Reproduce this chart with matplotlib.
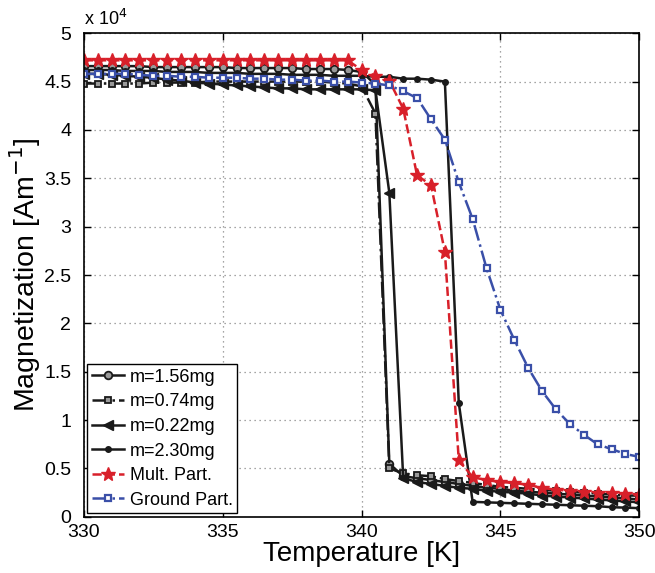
import matplotlib
matplotlib.use("Agg")
import matplotlib.pyplot as plt
from matplotlib.ticker import MultipleLocator, FormatStrFormatter

plt.rcParams['font.family'] = ['Liberation Sans', 'DejaVu Sans']

temps = [330, 330.5, 331, 331.5, 332, 332.5, 333, 333.5, 334, 334.5,
         335, 335.5, 336, 336.5, 337, 337.5, 338, 338.5, 339, 339.5,
         340, 340.5, 341, 341.5, 342, 342.5, 343, 343.5, 344, 344.5,
         345, 345.5, 346, 346.5, 347, 347.5, 348, 348.5, 349, 349.5, 350]

# values in units of 1e4 A/m
m156 = [4.66, 4.66, 4.66, 4.66, 4.66, 4.65, 4.65, 4.65, 4.65, 4.65,
        4.65, 4.64, 4.64, 4.64, 4.64, 4.64, 4.63, 4.63, 4.63, 4.62,
        4.60, 4.47, 0.55, 0.42, 0.40, 0.38, 0.36, 0.34, 0.32, 0.30,
        0.29, 0.27, 0.26, 0.25, 0.24, 0.23, 0.22, 0.21, 0.20, 0.19, 0.18]
m074 = [4.48, 4.48, 4.48, 4.48, 4.48, 4.49, 4.49, 4.49, 4.49, 4.50,
        4.50, 4.50, 4.50, 4.50, 4.50, 4.50, 4.50, 4.50, 4.49, 4.48,
        4.45, 4.17, 0.50, 0.45, 0.43, 0.42, 0.39, 0.37, 0.35, 0.33,
        0.31, 0.30, 0.29, 0.28, 0.27, 0.26, 0.25, 0.24, 0.23, 0.22, 0.22]
m022 = [4.58, 4.58, 4.57, 4.56, 4.55, 4.54, 4.52, 4.51, 4.49, 4.48,
        4.47, 4.46, 4.45, 4.44, 4.43, 4.43, 4.42, 4.42, 4.42, 4.42,
        4.42, 4.41, 3.35, 0.40, 0.36, 0.34, 0.32, 0.30, 0.29, 0.27,
        0.26, 0.25, 0.24, 0.22, 0.21, 0.20, 0.19, 0.18, 0.17, 0.16, 0.15]
m230 = [4.62, 4.62, 4.62, 4.61, 4.61, 4.61, 4.60, 4.60, 4.60, 4.59,
        4.59, 4.59, 4.58, 4.58, 4.58, 4.57, 4.57, 4.57, 4.56, 4.56,
        4.56, 4.55, 4.55, 4.53, 4.53, 4.52, 4.50, 1.18, 0.155, 0.15,
        0.145, 0.14, 0.135, 0.13, 0.125, 0.12, 0.115, 0.11, 0.10, 0.095, 0.09]
mult = [4.72, 4.72, 4.72, 4.72, 4.72, 4.72, 4.72, 4.72, 4.72, 4.72,
        4.72, 4.72, 4.72, 4.72, 4.72, 4.72, 4.72, 4.72, 4.72, 4.72,
        4.62, 4.56, 4.51, 4.22, 3.53, 3.43, 2.74, 0.59, 0.41, 0.38,
        0.36, 0.35, 0.33, 0.30, 0.28, 0.27, 0.26, 0.25, 0.245, 0.24, 0.23]
ground = [4.58, 4.58, 4.58, 4.58, 4.57, 4.56, 4.56, 4.55, 4.55, 4.54,
          4.54, 4.54, 4.53, 4.53, 4.52, 4.52, 4.51, 4.51, 4.50, 4.50,
          4.49, 4.48, 4.46, 4.40, 4.33, 4.11, 3.90, 3.46, 3.08, 2.57,
          2.14, 1.83, 1.54, 1.30, 1.11, 0.96, 0.85, 0.75, 0.70, 0.65, 0.62]

labels = ['m=1.56mg', 'm=0.74mg', 'm=0.22mg', 'm=2.30mg', 'Mult. Part.', 'Ground Part.']

red = '#d8202a'
blue = '#3a4fa8'
blk = '#1a1a1a'

fig = plt.figure(figsize=(6.55, 5.73), dpi=100)
ax = fig.add_axes([0.128, 0.098, 0.848, 0.844])

ax.plot(temps, m156, '-', color=blk, lw=1.8, marker='o', ms=5.5,
        mfc='#9a9a9a', mec=blk, mew=1.3, label=labels[0])
ax.plot(temps, m074, '-.', color=blk, lw=1.8, marker='s', ms=5,
        mfc='#9a9a9a', mec=blk, mew=1.3, label=labels[1])
ax.plot(temps, m022, '-', color=blk, lw=1.8, marker='<', ms=7,
        mfc=blk, mec=blk, label=labels[2])
ax.plot(temps, m230, '-', color=blk, lw=1.8, marker='o', ms=4,
        mfc=blk, mec=blk, label=labels[3])
ax.plot(temps, mult, '--', color=red, lw=1.8, marker='*', ms=10,
        mfc=red, mec=red, label=labels[4])
ax.plot(temps, ground, '-.', color=blue, lw=1.8, marker='s', ms=5,
        mfc='white', mec=blue, mew=1.6, label=labels[5])

ax.set_xlim(330, 350)
ax.set_ylim(0, 5)
ax.xaxis.set_major_locator(MultipleLocator(5))
ax.yaxis.set_major_locator(MultipleLocator(0.5))
ax.yaxis.set_major_formatter(FormatStrFormatter('%g'))
ax.grid(True, linestyle=(0, (1, 3)), color='#888888', lw=0.9)
ax.tick_params(direction='in', top=True, right=True, length=5, labelsize=14, width=1)
ax.tick_params(axis='x', pad=5)
ax.tick_params(axis='y', pad=9)
for s in ax.spines.values():
    s.set_linewidth(1.2)

ax.set_xlabel('Temperature [K]', fontsize=20, labelpad=0)
ax.set_ylabel('Magnetization [Am$^{-1}$]', fontsize=20.5, labelpad=1)
ax.text(0.0, 1.008, r'x 10$^4$', transform=ax.transAxes, fontsize=13, ha='left', va='bottom')

leg = ax.legend(loc='lower left', fontsize=13, frameon=True, fancybox=False,
                edgecolor='black', framealpha=1, borderpad=0.25, labelspacing=0.42,
                handlelength=1.8, handletextpad=0.3, borderaxespad=0.2)
leg.get_frame().set_linewidth(1.0)

fig.savefig('out.png', dpi=100)
